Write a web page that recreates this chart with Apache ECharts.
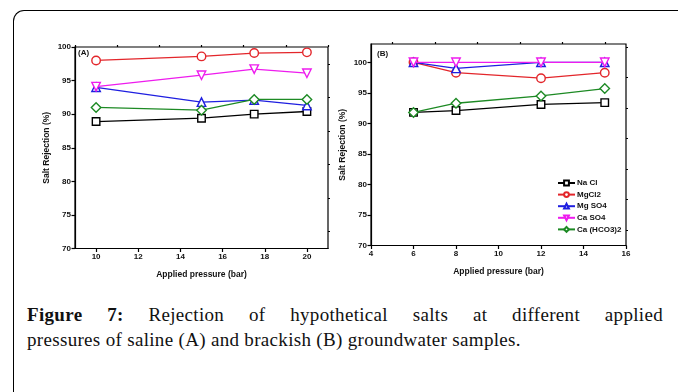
<!DOCTYPE html>
<html>
<head>
<meta charset="utf-8">
<script src="https://cdn.jsdelivr.net/npm/echarts@6/dist/echarts.min.js"></script>
<style>
  html, body { margin: 0; padding: 0; background: #fff; }
  #wrap { position: relative; width: 678px; height: 392px; overflow: hidden; background: #fff; }
  #frame { position: absolute; left: 13px; top: 10px; width: 700px; height: 400px;
           border-left: 1.5px solid #000; border-top: 1.5px solid #000; border-top-left-radius: 11px; }
  #chart { position: absolute; left: 0; top: 0; width: 678px; height: 290px; }
  #caption { position: absolute; left: 27px; top: 302px; width: 636px;
             font-family: "Liberation Serif", "Times New Roman", serif; font-size: 19px;
             line-height: 25px; color: #111; letter-spacing: 0.32px; }
  #caption .l1 { text-align: justify; text-align-last: justify; white-space: nowrap; }
  #caption .l2 { text-align: left; white-space: nowrap; }
  #caption b { font-weight: bold; }
</style>
</head>
<body>
<div id="wrap">
  <div id="frame"></div>
  <div id="chart"></div>
  <div id="caption"><div class="l1"><b>Figure 7:</b> Rejection of hypothetical salts at different applied</div><div class="l2">pressures of saline (A) and brackish (B) groundwater samples.</div></div>
</div>
<script>
// ---- data ----
const saltNames = ['Na Cl', 'MgCl2', 'Mg SO4', 'Ca SO4', 'Ca (HCO3)2'];
const pressureA = [10, 15, 17.5, 20];
const pressureB = [6, 8, 12, 15];

const naclA   = [88.9, 89.4, 90.0, 90.4];
const mgcl2A  = [98.0, 98.6, 99.1, 99.2];
const mgso4A  = [94.0, 91.8, 92.1, 91.3];
const caso4A  = [94.1, 95.8, 96.7, 96.1];
const cahco3A = [91.0, 90.6, 92.2, 92.2];

const naclB   = [91.8, 92.1, 93.1, 93.4];
const mgcl2B  = [100, 98.3, 97.4, 98.3];
const mgso4B  = [100, 99.0, 100, 100];
const caso4B  = [100, 100, 100, 100];
const cahco3B = [91.8, 93.3, 94.5, 95.7];

const xTicksA = [10, 12, 14, 16, 18, 20];
const xMinorA = [9, 11, 13, 15, 17, 19, 21];
const xTicksB = [4, 6, 8, 10, 12, 14, 16];
const xMinorB = [5, 7, 9, 11, 13, 15];
const yTicks  = [70, 75, 80, 85, 90, 95, 100];
const yMinorA = [72.5, 77.5, 82.5, 87.5, 92.5, 97.5];
const yMinorB = [72.5, 77.5, 82.5, 87.5, 92.5, 97.5, 102.5];

// ---- styling ----
const colors = ['#000000', '#e3262b', '#1f1fe0', '#ee1cee', '#1d8a24'];
const symbols = ['rect', 'circle', 'triangle', 'triangle', 'diamond'];
const rotations = [0, 0, 0, 180, 0];
const symSizes = [7.5, 8.5, 8.5, 8.5, 9.5];
const labelFont = { fontFamily: 'Liberation Sans, Arial, sans-serif', fontWeight: 'bold', fontSize: 8, color: '#111' };

function zip(xs, ys) { return xs.map((x, i) => [x, ys[i]]); }

const seriesA = [naclA, mgcl2A, mgso4A, caso4A, cahco3A];
const seriesB = [naclB, mgcl2B, mgso4B, caso4B, cahco3B];

function makeSeries(arrs, xs, xIdx, yIdx) {
  return arrs.map((ys, i) => ({
    name: saltNames[i],
    type: 'line',
    xAxisIndex: xIdx, yAxisIndex: yIdx,
    data: zip(xs, ys),
    symbol: symbols[i],
    symbolRotate: rotations[i],
    symbolSize: symSizes[i],
    showAllSymbol: true,
    lineStyle: { color: colors[i], width: 1.3 },
    itemStyle: { color: '#fff', borderColor: colors[i], borderWidth: 1.4 },
    emphasis: { disabled: true },
    z: 3 + i
  }));
}

function xAxisMain(grid, min, max, ticks, name) {
  return {
    type: 'value', gridIndex: grid, min: min, max: max,
    name: name, nameLocation: 'middle', nameGap: 22,
    nameTextStyle: Object.assign({}, labelFont, { fontSize: 8.5 }),
    axisLine: { show: true, onZero: false, lineStyle: { color: '#000', width: 1.2 } },
    axisTick: { show: true, customValues: ticks, length: 3.5, lineStyle: { color: '#000', width: 1.2 } },
    axisLabel: Object.assign({ customValues: ticks, margin: 4, showMinLabel: true, showMaxLabel: true }, labelFont),
    splitLine: { show: false }
  };
}
function xAxisMinor(grid, min, max, ticks) {
  return {
    type: 'value', gridIndex: grid, min: min, max: max,
    axisLine: { show: false, onZero: false },
    axisTick: { show: true, customValues: ticks, length: 2, lineStyle: { color: '#000', width: 1.2 } },
    axisLabel: { show: false },
    splitLine: { show: false }
  };
}
function yAxisMain(grid, min, max, ticks, gap) {
  return {
    type: 'value', gridIndex: grid, min: min, max: max,
    name: 'Salt Rejection (%)', nameLocation: 'middle', nameGap: gap, nameRotate: 90,
    nameTextStyle: Object.assign({}, labelFont, { fontSize: 8.5 }),
    axisLine: { show: true, onZero: false, lineStyle: { color: '#000', width: 1.2 } },
    axisTick: { show: true, customValues: ticks, length: 3.5, lineStyle: { color: '#000', width: 1.2 } },
    axisLabel: Object.assign({ customValues: ticks, margin: 4 }, labelFont),
    splitLine: { show: false }
  };
}
function yAxisMinor(grid, min, max, ticks) {
  return {
    type: 'value', gridIndex: grid, min: min, max: max,
    axisLine: { show: false, onZero: false },
    axisTick: { show: true, customValues: ticks, length: 2, lineStyle: { color: '#000', width: 1.2 } },
    axisLabel: { show: false },
    splitLine: { show: false }
  };
}

const chart = echarts.init(document.getElementById('chart'), null, { renderer: 'canvas' });
chart.setOption({
  animation: false,
  backgroundColor: 'transparent',
  grid: [
    { left: 75, top: 47, width: 253, height: 201.5, show: true, borderColor: '#000', borderWidth: 1.2, backgroundColor: 'transparent' },
    { left: 371, top: 44, width: 255, height: 201.5, show: true, borderColor: '#000', borderWidth: 1.2, backgroundColor: 'transparent' }
  ],
  xAxis: [
    xAxisMain(0, 9, 21, xTicksA, 'Applied pressure (bar)'),
    xAxisMain(1, 4, 16, xTicksB, 'Applied pressure (bar)'),
    xAxisMinor(0, 9, 21, xMinorA),
    xAxisMinor(1, 4, 16, xMinorB)
  ],
  yAxis: [
    yAxisMain(0, 70, 100, yTicks, 24),
    yAxisMain(1, 70, 103, yTicks, 24),
    yAxisMinor(0, 70, 100, yMinorA),
    yAxisMinor(1, 70, 103, yMinorB)
  ],
  legend: {
    data: saltNames,
    orient: 'vertical',
    left: 552, top: 174,
    itemWidth: 17, itemHeight: 6, itemGap: 3.6,
    textStyle: Object.assign({}, labelFont, { padding: [0, 0, 0, -3] }),
    selectedMode: false
  },
  graphic: [
    { type: 'text', left: 78, top: 49, style: { text: '(A)', font: 'bold 8px "Liberation Sans", Arial, sans-serif', fill: '#111' } },
    { type: 'text', left: 377, top: 50, style: { text: '(B)', font: 'bold 8px "Liberation Sans", Arial, sans-serif', fill: '#111' } }
  ],
  series: makeSeries(seriesA, pressureA, 0, 0).concat(makeSeries(seriesB, pressureB, 1, 1))
});
</script>
</body>
</html>
